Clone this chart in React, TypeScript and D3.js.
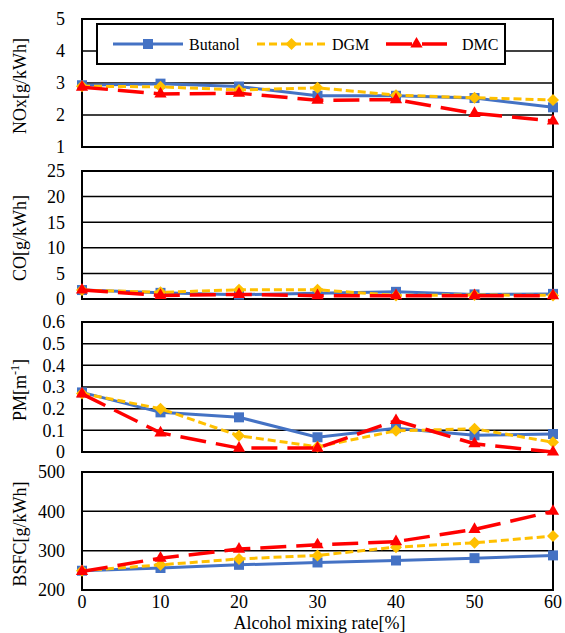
import React, { useEffect, useRef } from 'react'
import * as d3 from 'd3'

// alcohol mixing rate [%]
const mixingRate = [0, 10, 20, 30, 40, 50, 60]
const seriesNames = ['Butanol', 'DGM', 'DMC']

const noxButanol = [2.93, 2.98, 2.89, 2.6, 2.6, 2.53, 2.24]
const noxDGM = [2.9, 2.88, 2.78, 2.85, 2.62, 2.54, 2.47]
const noxDMC = [2.87, 2.66, 2.68, 2.46, 2.48, 2.05, 1.81]

const coButanol = [1.75, 1.2, 0.85, 1.1, 1.4, 0.9, 1.0]
const coDGM = [1.75, 1.3, 1.8, 1.8, 0.7, 0.8, 0.7]
const coDMC = [1.75, 0.7, 0.9, 0.65, 0.65, 0.65, 0.65]

const pmButanol = [0.275, 0.183, 0.16, 0.068, 0.11, 0.077, 0.083]
const pmDGM = [0.27, 0.2, 0.075, 0.024, 0.098, 0.107, 0.045]
const pmDMC = [0.268, 0.088, 0.018, 0.018, 0.145, 0.038, 0.0]

const bsfcButanol = [249, 256, 264, 270, 275, 281, 288]
const bsfcDGM = [249, 264, 279, 288, 309, 320, 337]
const bsfcDMC = [247, 281, 304, 315, 323, 354, 400]

const noxTicks = [1, 2, 3, 4, 5]
const coTicks = [0, 5, 10, 15, 20, 25]
const pmTicks = [0, 0.1, 0.2, 0.3, 0.4, 0.5, 0.6]
const bsfcTicks = [200, 300, 400, 500]

const colors = ['#4472C4', '#FFC000', '#FF0000']
const dashes = ['none', '8,4', '26,10']
const widths = [3, 3, 3.5]
const font = '"Liberation Serif", "Times New Roman", serif'

const markerPath = (i: number) => {
  if (i === 0) return d3.symbol().type(d3.symbolSquare).size(100)()
  if (i === 1) return 'M0,-6L6,0L0,6L-6,0Z'
  return d3.symbol().type(d3.symbolTriangle).size(65)()
}

const App = () => {
  const ref = useRef<SVGSVGElement>(null)

  useEffect(() => {
    const svg = d3.select(ref.current)
    svg.selectAll('*').remove()

    const left = 82, right = 553
    const x = d3.scaleLinear().domain([0, 60]).range([left, right])

    const panels = [
      { top: 19, bottom: 147, domain: [1, 5], ticks: noxTicks, data: [noxButanol, noxDGM, noxDMC], label: 'NOx[g/kWh]', fmt: d3.format('d') },
      { top: 171, bottom: 299, domain: [0, 25], ticks: coTicks, data: [coButanol, coDGM, coDMC], label: 'CO[g/kWh]', fmt: d3.format('d') },
      { top: 322, bottom: 452, domain: [0, 0.6], ticks: pmTicks, data: [pmButanol, pmDGM, pmDMC], label: 'PM', fmt: (d: number) => d === 0 ? '0' : d3.format('.1f')(d) },
      { top: 472, bottom: 590, domain: [200, 500], ticks: bsfcTicks, data: [bsfcButanol, bsfcDGM, bsfcDMC], label: 'BSFC[g/kWh]', fmt: d3.format('d') },
    ]

    panels.forEach(p => {
      const y = d3.scaleLinear().domain(p.domain).range([p.bottom, p.top])
      const g = svg.append('g')

      // gridlines
      g.selectAll('line.grid').data(p.ticks).join('line')
        .attr('x1', left).attr('x2', right)
        .attr('y1', d => y(d)).attr('y2', d => y(d))
        .attr('stroke', '#000').attr('stroke-width', 1.5)

      // frame
      g.append('rect')
        .attr('x', left).attr('y', p.top)
        .attr('width', right - left).attr('height', p.bottom - p.top)
        .attr('fill', 'none').attr('stroke', '#000').attr('stroke-width', 2)

      // tick labels
      g.selectAll('text.tick').data(p.ticks).join('text')
        .attr('x', left - 17).attr('y', d => y(d))
        .attr('dy', '0.35em')
        .attr('text-anchor', 'end')
        .attr('font-family', font).attr('font-size', 18)
        .text(d => p.fmt(d))

      // y label
      const cy = (p.top + p.bottom) / 2 + 3
      const lab = g.append('text')
        .attr('transform', `translate(26,${cy}) rotate(-90)`)
        .attr('text-anchor', 'middle')
        .attr('font-family', font).attr('font-size', 18)
      if (p.label === 'PM') {
        lab.append('tspan').text('PM[m')
        lab.append('tspan').attr('font-size', 12).attr('dy', -7).text('-1')
        lab.append('tspan').attr('dy', 7).text(']')
      } else {
        lab.text(p.label)
      }

      // series
      p.data.forEach((vals, i) => {
        const pts = vals.map((v, k) => [mixingRate[k], v] as [number, number])
        const line = d3.line<[number, number]>().x(d => x(d[0])).y(d => y(d[1]))
        g.append('path')
          .datum(pts)
          .attr('d', line)
          .attr('fill', 'none')
          .attr('stroke', colors[i])
          .attr('stroke-width', widths[i])
          .attr('stroke-dasharray', dashes[i])
        g.selectAll(`path.m${i}`).data(pts).join('path')
          .attr('transform', d => `translate(${x(d[0])},${y(d[1])})`)
          .attr('d', markerPath(i))
          .attr('fill', colors[i])
      })
    })

    // x tick labels
    svg.selectAll('text.xt').data(mixingRate).join('text')
      .attr('x', d => x(d)).attr('y', 608)
      .attr('text-anchor', 'middle')
      .attr('font-family', font).attr('font-size', 18)
      .text(d => d)

    svg.append('text')
      .attr('x', (left + right) / 2 + 2).attr('y', 629)
      .attr('text-anchor', 'middle')
      .attr('font-family', font).attr('font-size', 18)
      .text('Alcohol mixing rate[%]')

    // legend
    const lg = svg.append('g')
    lg.append('rect')
      .attr('x', 97).attr('y', 24).attr('width', 408).attr('height', 40)
      .attr('fill', '#fff').attr('stroke', '#000').attr('stroke-width', 2)
    const lineStart = [113, 257, 386]
    const lineLen = [70, 69, 61]
    const textX = [189, 332, 462]
    seriesNames.forEach((name, i) => {
      const ly = 44
      lg.append('line')
        .attr('x1', lineStart[i]).attr('x2', lineStart[i] + lineLen[i])
        .attr('y1', ly).attr('y2', ly)
        .attr('stroke', colors[i]).attr('stroke-width', widths[i])
        .attr('stroke-dasharray', dashes[i])
      lg.append('path')
        .attr('transform', `translate(${lineStart[i] + lineLen[i] / 2},${ly})`)
        .attr('d', markerPath(i))
        .attr('fill', colors[i])
      lg.append('text')
        .attr('x', textX[i]).attr('y', ly).attr('dy', '0.35em')
        .attr('font-family', font).attr('font-size', 16)
        .text(name)
    })
  }, [])

  return (
    <svg ref={ref} width={565} height={633}
      style={{ position: 'absolute', left: 0, top: 0, background: '#fff' }} />
  )
}

export default App
